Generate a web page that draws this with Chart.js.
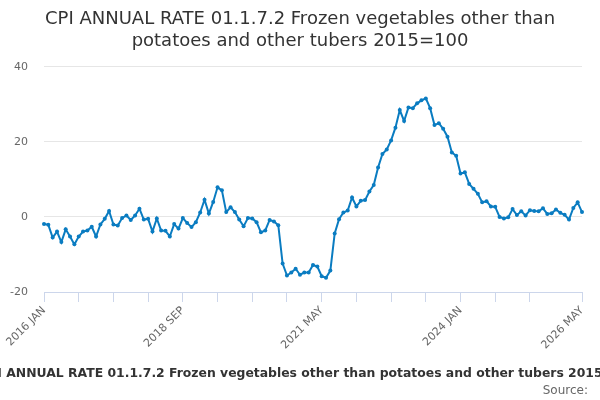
<!DOCTYPE html>
<html>
<head>
<meta charset="utf-8">
<script src="https://cdn.jsdelivr.net/npm/chart.js@4"></script>
<style>
html,body{margin:0;padding:0;background:#fff;overflow:hidden;}
#wrap{width:600px;height:400px;position:relative;}
</style>
</head>
<body>
<div id="wrap"><canvas id="c" width="600" height="400"></canvas></div>
<script>
const titleLines = ["CPI ANNUAL RATE 01.1.7.2 Frozen vegetables other than", "potatoes and other tubers 2015=100"];
const captionText = "CPI ANNUAL RATE 01.1.7.2 Frozen vegetables other than potatoes and other tubers 2015=100";
const sourceText = "Source:";
const monthNames = ["JAN","FEB","MAR","APR","MAY","JUN","JUL","AUG","SEP","OCT","NOV","DEC"];
const startYear = 2016;
const values = [
  -1.9, -2.1, -5.5, -3.9, -6.7, -3.3, -5.2, -7.3, -5.2, -3.9,
  -3.6, -2.6, -5.2, -2.0, -0.5, 1.6, -2.0, -2.3, -0.3, 0.4,
  -0.8, 0.4, 2.2, -0.7, -0.5, -3.9, -0.4, -3.6, -3.7, -5.2,
  -1.9, -3.1, -0.3, -1.6, -2.7, -1.4, 1.2, 4.6, 0.9, 4.0,
  7.9, 7.1, 1.3, 2.6, 1.3, -0.7, -2.5, -0.3, -0.4, -1.4,
  -4.1, -3.6, -0.8, -1.2, -2.2, -12.4, -15.6, -14.8, -13.8, -15.4,
  -14.8, -14.8, -12.8, -13.2, -15.8, -16.2, -14.3, -4.4, -0.6, 1.2,
  1.7, 5.2, 2.8, 4.3, 4.5, 6.8, 8.5, 13.2, 16.8, 18.0,
  20.4, 23.8, 28.5, 25.6, 29.2, 29.0, 30.3, 31.1, 31.6, 29.0,
  24.5, 25.0, 23.5, 21.4, 17.2, 16.3, 11.6, 11.9, 8.8, 7.5,
  6.2, 3.9, 4.2, 2.8, 2.7, 0.0, -0.4, -0.1, 2.1, 0.5,
  1.5, 0.4, 1.8, 1.6, 1.5, 2.3, 0.8, 1.0, 2.0, 1.1,
  0.6, -0.7, 2.4, 3.9, 1.3
];
const categories = values.map((v, i) => (startYear + Math.floor(i / 12)) + " " + monthNames[i % 12]);
const yTicks = [-20, 0, 20, 40];
const lastIdx = categories.length - 1;

const footerPlugin = {
  id: 'footerTexts',
  afterDraw(chart) {
    const ctx = chart.ctx;
    ctx.save();
    ctx.font = 'bold 12.4px "DejaVu Sans"';
    ctx.fillStyle = '#333333';
    ctx.textAlign = 'center';
    ctx.textBaseline = 'middle';
    ctx.fillText(captionText, 309, 374);
    ctx.font = '12px "DejaVu Sans"';
    ctx.fillStyle = '#666666';
    ctx.textAlign = 'right';
    ctx.fillText(sourceText, 588, 391);
    ctx.restore();
  }
};

new Chart(document.getElementById('c'), {
  type: 'line',
  data: {
    labels: categories,
    datasets: [{
      label: captionText,
      data: values,
      borderColor: '#0a7cc1',
      backgroundColor: '#0a7cc1',
      borderWidth: 2,
      pointRadius: 2,
      pointHoverRadius: 3,
      pointBackgroundColor: '#0a7cc1',
      pointBorderWidth: 0,
      tension: 0,
      fill: false
    }]
  },
  options: {
    responsive: false,
    animation: false,
    devicePixelRatio: 1,
    layout: { padding: { left: 0, right: 0, top: 0, bottom: 37.6 } },
    plugins: {
      legend: { display: false },
      tooltip: { enabled: false },
      title: {
        display: true,
        text: titleLines,
        color: '#333333',
        font: { family: '"DejaVu Sans"', size: 18, weight: 'normal', lineHeight: 1.22 },
        padding: { top: 8, bottom: 15 }
      }
    },
    scales: {
      x: {
        type: 'category',
        offset: false,
        border: { display: true, color: '#ccd6eb', width: 1 },
        grid: { drawOnChartArea: false, drawTicks: true, tickLength: 10, color: '#ccd6eb' },
        ticks: {
          autoSkip: false,
          maxRotation: 45,
          minRotation: 45,
          padding: 2,
          color: '#666666',
          font: { family: '"DejaVu Sans"', size: 11 },
          callback: function(value, index) {
            if (index % 32 === 0 || index === lastIdx) return this.getLabelForValue(value);
            if (index % 8 === 0 && index <= 112) return '';
            return null;
          }
        },
        afterFit(scale) { scale.height = 70.4; }
      },
      y: {
        min: -20,
        max: 40,
        border: { display: false },
        grid: { color: '#e6e6e6', drawTicks: false, lineWidth: 1 },
        afterBuildTicks(scale) { scale.ticks = yTicks.map(v => ({ value: v })); },
        ticks: {
          padding: 16,
          color: '#666666',
          font: { family: '"DejaVu Sans"', size: 11 }
        },
        afterFit(scale) { scale.width = 44; }
      },
      yRight: {
        position: 'right',
        min: -20,
        max: 40,
        border: { display: false },
        grid: { drawOnChartArea: false, drawTicks: false },
        ticks: { display: false },
        afterFit(scale) { scale.width = 18; }
      }
    }
  },
  plugins: [footerPlugin]
});
</script>
</body>
</html>
